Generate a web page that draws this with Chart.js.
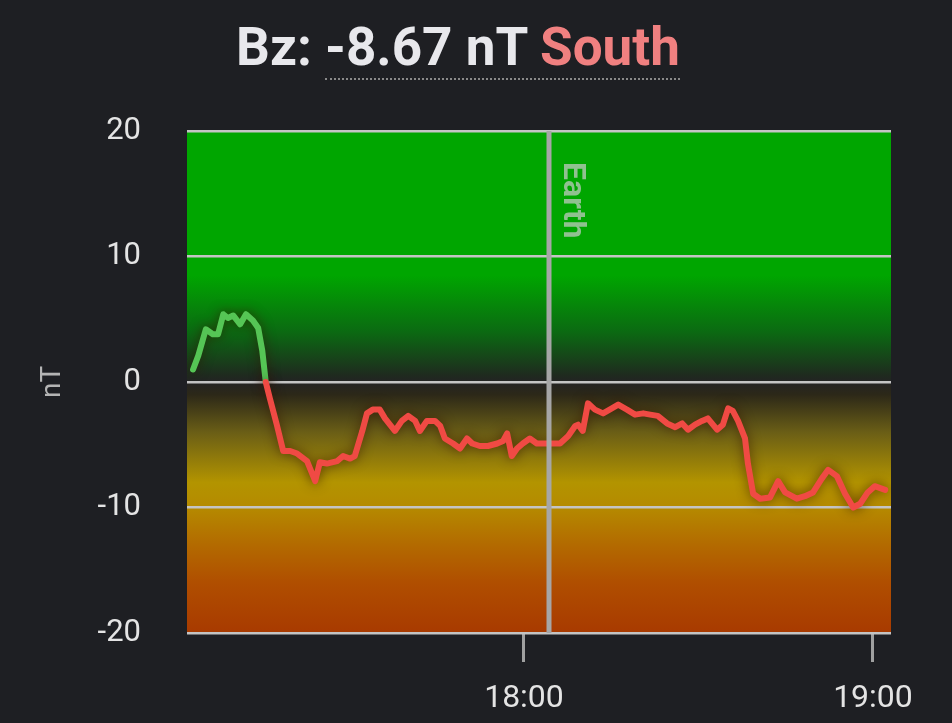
<!DOCTYPE html>
<html>
<head>
<meta charset="utf-8">
<script src="https://cdn.jsdelivr.net/npm/chart.js@4.4.1/dist/chart.umd.min.js"></script>
<style>
  html, body { margin: 0; padding: 0; background: #1e1f23; }
  body { width: 952px; height: 723px; position: relative; overflow: hidden; font-family: Roboto, sans-serif; }
  #title {
    position: absolute; top: 21px; left: 0; width: 916px; text-align: center;
    font: bold 53px/53px Roboto, sans-serif; color: #e8e8ec; white-space: nowrap; z-index: 2;
  }
  #title .val { border-bottom: 2px dotted #8a8a8a; }
  #title .dir { color: #f08080; }
  #chart { position: absolute; top: 0; left: 0; }
</style>
</head>
<body>
<div id="title">Bz: <span class="val">-8.67 nT <span class="dir">South</span></span></div>
<canvas id="chart" width="952" height="723"></canvas>
<script>
// minutes after 17:00
const minutes = [
  3.1, 4.0, 5.3, 6.5, 7.4, 8.3, 9.1, 10.0, 11.2, 12.2, 13.4, 14.3, 15.0, 15.6,
  16.3, 17.5, 18.6, 19.8, 21.0, 22.7, 24.1, 24.9, 26.1, 27.9, 28.9, 30.1, 30.9,
  32.2, 33.0, 34.0, 35.2, 36.1, 37.8, 39.0, 40.1, 41.3, 42.1, 43.3, 44.7, 45.6,
  46.4, 47.8, 49.0, 50.2, 51.1, 52.4, 53.8, 55.4, 56.4, 57.1, 57.9, 58.8, 59.8,
  61.0, 62.2, 63.3, 64.8, 66.2, 67.6, 68.8, 69.3, 70.1, 71.0, 72.2, 73.6, 75.1,
  76.2, 77.7, 79.1, 80.5, 81.7, 83.0, 84.6, 86.0, 87.2, 88.2, 89.4, 90.6, 91.6,
  93.2, 94.2, 95.1, 95.9, 96.8, 98.0, 98.5, 99.4, 100.6, 102.3, 103.7, 104.9,
  106.9, 108.3, 109.7, 111.2, 112.3, 113.8, 115.2, 116.6, 117.8, 119.1, 120.3, 122.1
];
const bzValues = [
  1.0, 2.1, 4.2, 3.8, 3.8, 5.4, 5.1, 5.3, 4.6, 5.4, 4.9, 4.3, 2.5, 0,
  -1.3, -3.4, -5.5, -5.5, -5.7, -6.3, -7.9, -6.4, -6.5, -6.3, -5.9, -6.1, -5.9,
  -3.9, -2.5, -2.2, -2.2, -2.9, -3.9, -3.1, -2.7, -3.1, -3.9, -3.1, -3.1, -3.5,
  -4.5, -4.9, -5.3, -4.5, -4.9, -5.1, -5.1, -4.9, -4.7, -4.1, -5.9, -5.3, -4.9,
  -4.5, -4.9, -4.9, -4.9, -4.9, -4.3, -3.5, -3.4, -3.9, -1.7, -2.2, -2.5, -2.1,
  -1.8, -2.2, -2.6, -2.5, -2.6, -2.7, -3.3, -3.6, -3.3, -3.8, -3.4, -3.1, -2.9,
  -3.8, -3.4, -2.1, -2.3, -3.1, -4.5, -6.5, -8.9, -9.3, -9.2, -7.9, -8.8,
  -9.3, -9.1, -8.8, -7.7, -7.0, -7.5, -8.9, -10.0, -9.7, -8.8, -8.3, -8.6
];
const xTickMinutes = [60, 120];
const xTickLabels = ['18:00', '19:00'];
const yTicks = [-20, -10, 0, 10, 20];
const earthMinute = 64.3;

// background colour stops: [nT, colour]
const bgStops = [
  [20, '#00a600'], [8.5, '#00a600'], [4, '#0b6a12'], [0.5, '#1f2a1f'], [0, '#232323'],
  [-1, '#2c2818'], [-4, '#6a5e16'], [-8, '#b39400'], [-10, '#b58a00'],
  [-13, '#b36a00'], [-16, '#b04e00'], [-20, '#a83a00']
];

const bgPlugin = {
  id: 'bg',
  beforeDraw(chart) {
    const { ctx, chartArea: a, scales: { y } } = chart;
    const top = y.getPixelForValue(20), bottom = y.getPixelForValue(-20);
    const g = ctx.createLinearGradient(0, top, 0, bottom);
    bgStops.forEach(([v, c]) => g.addColorStop((y.getPixelForValue(v) - top) / (bottom - top), c));
    ctx.save();
    ctx.fillStyle = g;
    ctx.fillRect(a.left, a.top, a.right - a.left, a.bottom - a.top);
    ctx.restore();
  },
  beforeDatasetsDraw(chart) {
    const ctx = chart.ctx;
    ctx.save();
    ctx.shadowColor = 'rgba(50,20,0,0.7)';
    ctx.shadowBlur = 12;
  },
  afterDatasetsDraw(chart) {
    const { ctx, chartArea: a, scales: { x } } = chart;
    ctx.restore();
    const ex = x.getPixelForValue(earthMinute);
    ctx.save();
    ctx.strokeStyle = '#a6a6a6';
    ctx.lineWidth = 5;
    ctx.beginPath();
    ctx.moveTo(ex, a.top);
    ctx.lineTo(ex, a.bottom);
    ctx.stroke();
    ctx.translate(ex + 23, a.top + 31);
    ctx.rotate(Math.PI / 2);
    ctx.fillStyle = 'rgba(205,205,205,0.7)';
    ctx.font = 'bold 32px Roboto';
    ctx.textAlign = 'left';
    ctx.textBaseline = 'middle';
    ctx.fillText('Earth', 0, 0);
    ctx.restore();
  }
};

const points = minutes.map((m, i) => ({ x: m, y: bzValues[i] }));

new Chart(document.getElementById('chart').getContext('2d'), {
  type: 'line',
  data: {
    datasets: [{
      data: points,
      borderWidth: 6,
      borderColor: '#f04a44',
      borderJoinStyle: 'round',
      borderCapStyle: 'round',
      pointRadius: 0,
      tension: 0,
      segment: {
        borderColor: c => (c.p0.parsed.y > 0 || c.p1.parsed.y > 0) ? '#55c555' : '#f04a44'
      }
    }]
  },
  options: {
    responsive: false,
    animation: false,
    devicePixelRatio: 1,
    layout: { padding: { top: 131, right: 61, left: 0, bottom: 0 } },
    plugins: { legend: { display: false }, tooltip: { enabled: false }, title: { display: false } },
    scales: {
      x: {
        type: 'linear',
        min: 2.06,
        max: 123.1,
        afterFit: s => { s.height = 90; },
        afterBuildTicks: s => { s.ticks = xTickMinutes.map(v => ({ value: v })); },
        ticks: {
          color: '#e4e4e4',
          font: { family: 'Roboto', size: 32 },
          padding: 18,
          maxRotation: 0,
          callback: v => xTickLabels[xTickMinutes.indexOf(v)]
        },
        grid: { drawOnChartArea: false, drawTicks: true, tickLength: 29, color: '#a0a0a0', lineWidth: 3 },
        border: { display: false }
      },
      y: {
        min: -20,
        max: 20,
        afterFit: s => { s.width = 187; },
        afterBuildTicks: s => { s.ticks = yTicks.map(v => ({ value: v })); },
        ticks: { color: '#e4e4e4', font: { family: 'Roboto', size: 31 }, padding: 46 },
        grid: { color: '#c4c4c4', lineWidth: 2.5, drawTicks: false },
        border: { display: false },
        title: {
          display: true,
          text: 'nT',
          color: '#b4b4b4',
          font: { family: 'Roboto', size: 28 },
          padding: { top: 36, bottom: 0 }
        }
      }
    }
  },
  plugins: [bgPlugin]
});
</script>
</body>
</html>
